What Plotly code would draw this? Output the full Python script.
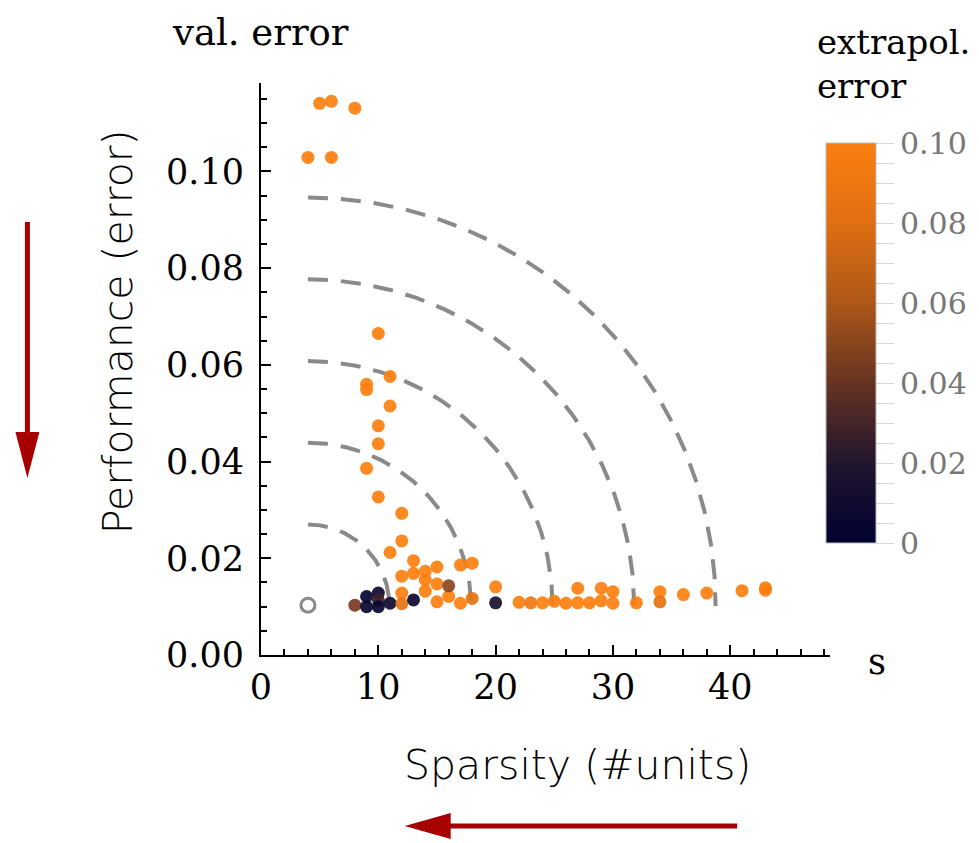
import numpy as np
import plotly.graph_objects as go

# ---- data ----
sparsity = [4, 5, 6, 6, 8,
            10, 11, 9, 9, 11, 10, 10, 9, 10, 12, 12, 11, 13, 12, 13, 14, 15, 17, 18,
            14, 15, 14, 12, 16, 20, 27, 29, 30, 34, 36, 38, 41, 43, 43,
            8, 9, 9, 10, 10, 10, 11, 12, 13, 15, 16, 17, 18, 20,
            22, 23, 24, 25, 26, 27, 28, 29, 30, 32, 34]
val_error = [0.1029, 0.1141, 0.1145, 0.1029, 0.1131,
             0.0665, 0.0576, 0.0560, 0.0549, 0.0515, 0.0474, 0.0437, 0.0386, 0.0327,
             0.0293, 0.0236, 0.0212, 0.0195, 0.0163, 0.0169, 0.0173, 0.0182, 0.0186, 0.0190,
             0.0155, 0.0147, 0.0132, 0.0128, 0.0121, 0.0141, 0.0138, 0.0138, 0.0131, 0.0131,
             0.0125, 0.0128, 0.0133, 0.0139, 0.0134,
             0.0103, 0.0121, 0.0100, 0.0128, 0.0114, 0.0100, 0.0107, 0.0106, 0.0114,
             0.0110, 0.0143, 0.0107, 0.0117, 0.0108,
             0.0109, 0.0108, 0.0108, 0.0111, 0.0107, 0.0108, 0.0108, 0.0112, 0.0107,
             0.0108, 0.0110]
extrap_error = [0.10, 0.10, 0.10, 0.10, 0.10,
                0.10, 0.10, 0.10, 0.10, 0.10, 0.10, 0.10, 0.10, 0.10, 0.10, 0.10, 0.10,
                0.10, 0.10, 0.10, 0.10, 0.10, 0.10, 0.10,
                0.10, 0.10, 0.10, 0.10, 0.10, 0.10, 0.10, 0.10, 0.10, 0.10, 0.10, 0.10,
                0.10, 0.10, 0.10,
                0.045, 0.005, 0.005, 0.008, 0.028, 0.005, 0.008, 0.085, 0.008,
                0.10, 0.05, 0.10, 0.085, 0.015,
                0.10, 0.09, 0.10, 0.10, 0.10, 0.10, 0.10, 0.10, 0.10, 0.10, 0.085]

ideal_sparsity = [4]
ideal_error = [0.0103]

# reference contours (quarter ellipses around the ideal point)
arc_center = (4.0, 0.0101)
arc_radius_x = [6.95, 13.9, 20.85, 27.8, 34.75]
arc_radius_y = [0.0169, 0.0338, 0.0507, 0.0676, 0.0845]

x_ticks = [0, 10, 20, 30, 40]
y_ticks = [0.00, 0.02, 0.04, 0.06, 0.08, 0.10]
cbar_ticks = [0, 0.02, 0.04, 0.06, 0.08, 0.10]
cbar_ticktext = ["0", "0.02", "0.04", "0.06", "0.08", "0.10"]

# ---- layout constants ----
W, H = 979, 843
L, R, T, B = 261, 148, 83, 188
PW, PH = W - L - R, H - T - B


def px(x):
    return (x - L) / PW


def py(y):
    return (H - B - y) / PH


SERIF = "DejaVu Serif"
HAND = "DejaVu Sans"
ARROW = "#a80000"

colorscale = [[0.0, "#000030"], [0.2, "#21152e"], [0.4, "#663322"],
              [0.6, "#ad5718"], [0.8, "#df6f12"], [1.0, "#fc7f0f"]]

fig = go.Figure()

theta = np.linspace(np.pi / 2, 0, 200)
for rx, ry in zip(arc_radius_x, arc_radius_y):
    fig.add_trace(go.Scatter(
        x=arc_center[0] + rx * np.cos(theta),
        y=arc_center[1] + ry * np.sin(theta),
        mode="lines",
        line=dict(color="#8a8a8a", width=4, dash="20px,13px"),
        hoverinfo="skip", showlegend=False))

fig.add_trace(go.Scatter(
    x=ideal_sparsity, y=ideal_error, mode="markers",
    marker=dict(symbol="circle-open", size=14, color="#8a8a8a", line=dict(width=3)),
    showlegend=False))

cb_tickvals = [round(i * 0.005, 3) for i in range(21)]
cb_ticktext = []
for v in cb_tickvals:
    match = [t for c, t in zip(cbar_ticks, cbar_ticktext) if abs(c - v) < 1e-9]
    cb_ticktext.append(match[0] if match else "")

fig.add_trace(go.Scatter(
    x=sparsity, y=val_error, mode="markers",
    marker=dict(size=13, color=extrap_error, colorscale=colorscale, cmin=0, cmax=0.1,
                opacity=0.92, line=dict(width=0),
                colorbar=dict(
                    x=px(826), xanchor="left", xpad=0,
                    y=py(343), yanchor="middle", ypad=0,
                    thickness=50, lenmode="pixels", len=400,
                    outlinecolor="#bbbbbb", outlinewidth=1,
                    ticks="outside", ticklen=18, tickwidth=1, tickcolor="#d8d8d8",
                    tickvals=cb_tickvals, ticktext=cb_ticktext,
                    tickfont=dict(family=SERIF, size=30, color="#777777"))),
    showlegend=False))

axis_common = dict(showline=True, linecolor="black", linewidth=2, mirror=False,
                   ticks="inside", ticklen=10, tickwidth=2, tickcolor="black",
                   showgrid=False, zeroline=False,
                   tickfont=dict(family=SERIF, size=35, color="black"))

fig.update_xaxes(range=[0, 48.5], tickvals=x_ticks,
                 minor=dict(dtick=2, tick0=0, ticks="inside", ticklen=6, tickwidth=2,
                            tickcolor="black", showgrid=False),
                 **axis_common)
fig.update_yaxes(range=[0, 0.1183], tickvals=y_ticks, tickformat=".2f",
                 ticklabelstandoff=8,
                 minor=dict(dtick=0.005, tick0=0, ticks="inside", ticklen=6, tickwidth=2,
                            tickcolor="black", showgrid=False),
                 **axis_common)

annotations = [
    dict(text="val. error", x=px(260), y=py(32), xanchor="center", yanchor="middle",
         font=dict(family=SERIF, size=37, color="black")),
    dict(text="s", x=px(878), y=py(662), xanchor="center", yanchor="middle",
         font=dict(family=SERIF, size=35, color="black")),
    dict(text="extrapol.<br>error", x=px(816), y=py(20), xanchor="left", yanchor="top",
         align="left", font=dict(family=SERIF, size=34, color="black")),
    dict(text="Performance (error)", x=px(118), y=py(332), xanchor="center",
         yanchor="middle", textangle=-90,
         font=dict(family=HAND, size=41, color="black", weight=300)),
    dict(text="Sparsity (#units)", x=px(578), y=py(765), xanchor="center",
         yanchor="middle", font=dict(family=HAND, size=41, color="black", weight=300)),
]
for a in annotations:
    a.update(xref="paper", yref="paper", showarrow=False)

shapes = [
    dict(type="line", x0=px(27), x1=px(27), y0=py(222), y1=py(440),
         line=dict(color=ARROW, width=5)),
    dict(type="path",
         path=f"M {px(15)} {py(432)} L {px(39)} {py(432)} L {px(27)} {py(478)} Z",
         fillcolor=ARROW, line=dict(width=0)),
    dict(type="line", x0=px(738), x1=px(445), y0=py(826), y1=py(826),
         line=dict(color=ARROW, width=5)),
    dict(type="path",
         path=f"M {px(451)} {py(813)} L {px(451)} {py(839)} L {px(405)} {py(826)} Z",
         fillcolor=ARROW, line=dict(width=0)),
]
for s in shapes:
    s.update(xref="paper", yref="paper")

fig.update_layout(width=W, height=H, autosize=False,
                  margin=dict(l=L, r=R, t=T, b=B, pad=0),
                  plot_bgcolor="white", paper_bgcolor="white",
                  annotations=annotations, shapes=shapes, showlegend=False)

fig.write_html("out.html")
